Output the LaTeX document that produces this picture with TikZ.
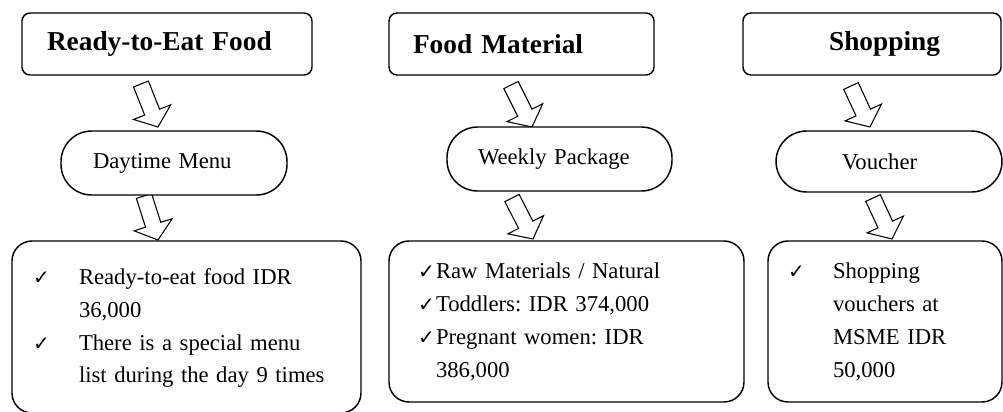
\documentclass[tikz,border=0pt]{standalone}
\usepackage{fontspec}
\setmainfont{Liberation Serif}
\newfontfamily\symfont{DejaVu Sans}
\usetikzlibrary{calc}

\newcommand{\chk}{{\symfont\fontsize{15}{15}\selectfont ✓}}

\tikzset{
  head/.style={draw, line width=1.1pt, rounded corners=6pt, minimum height=46.5pt,
    font=\fontsize{20.5}{24}\selectfont\bfseries},
  oval/.style={draw, fill=white, line width=1.1pt, rounded corners=23pt,
    font=\fontsize{17}{20}\selectfont, align=left},
  list/.style={draw, line width=1.1pt, rounded corners=15pt,
    font=\fontsize{17}{24.7}\selectfont\frenchspacing, align=left},
  hollow/.style={draw, fill=white, line width=0.8pt, line join=miter}
}

\begin{document}
\begin{tikzpicture}[x=0.75pt,y=-0.75pt]
\clip (0,0) rectangle (1003,411);

% ends of the hollow arrows
\coordinate (t1o) at (141,84);  \coordinate (d1i) at (158,127);
\coordinate (d1o) at (144,196); \coordinate (b1i) at (158,240);
\coordinate (t2o) at (511,85);  \coordinate (d2i) at (532,127);
\coordinate (d2o) at (512,198); \coordinate (b2i) at (533,239);
\coordinate (t3o) at (851,86);  \coordinate (d3i) at (870,127);
\coordinate (d3o) at (873,198); \coordinate (b3i) at (892,239);

\foreach \s/\e in {t1o/d1i, d1o/b1i, t2o/d2i, d2o/b2i, t3o/d3i, d3o/b3i} {
  \coordinate (n) at ($(\e)!12pt!(\s)$);
  \draw[hollow] ($(\s)!6pt!90:(\e)$) -- ($(n)!6pt!90:(\e)$) -- ($(n)!15pt!90:(\e)$) -- (\e)
    -- ($(n)!15pt!-90:(\e)$) -- ($(n)!6pt!-90:(\e)$) -- ($(\s)!6pt!-90:(\e)$) -- cycle;
}

% top row
\node[head, minimum width=217.5pt, text width=180pt, align=left] (t1) at (167,44) {Ready-to-Eat Food};
\node[head, minimum width=198.75pt, text width=162.75pt, align=left] (t2) at (521.5,44) {Food Material};
\node[head, minimum width=193.5pt, text width=102pt, align=right] (t3) at (872,44) {Shopping};

% middle row
\node[oval, minimum width=169.5pt, minimum height=48pt, text width=121.5pt] (d1) at (174,163) {Daytime Menu};
\node[oval, minimum width=168.75pt, minimum height=48pt, text width=122.25pt] (d2) at (559.5,159) {Weekly Package};
\node[oval, minimum width=169.5pt, minimum height=45.75pt, text width=70.5pt] (d3) at (889,161.5) {Voucher};

% bottom row
\node[list, minimum width=261.75pt, minimum height=129pt, text width=230.25pt] (b1) at (186.5,327) {%
  \begin{tabular}{@{}p{34.5pt}@{}l@{}}
  \chk & Ready-to-eat food IDR\\
       & 36,000\\
  \chk & There is a special menu\\
       & list during the day 9 times
  \end{tabular}};
\node[list, minimum width=266.25pt, minimum height=120.75pt, text width=222.75pt] (b2) at (566.5,321.5) {%
  \begin{tabular}{@{}p{13.5pt}@{}l@{}}
  \chk & Raw Materials / Natural\\
  \chk & Toddlers: IDR 374,000\\
  \chk & Pregnant women: IDR\\
       & 386,000
  \end{tabular}};
\node[list, minimum width=175.5pt, minimum height=120.75pt, text width=145.5pt] (b3) at (885,321.5) {%
  \begin{tabular}{@{}p{33.75pt}@{}l@{}}
  \chk & Shopping\\
       & vouchers at\\
       & MSME IDR\\
       & 50,000
  \end{tabular}};
\end{tikzpicture}
\end{document}
